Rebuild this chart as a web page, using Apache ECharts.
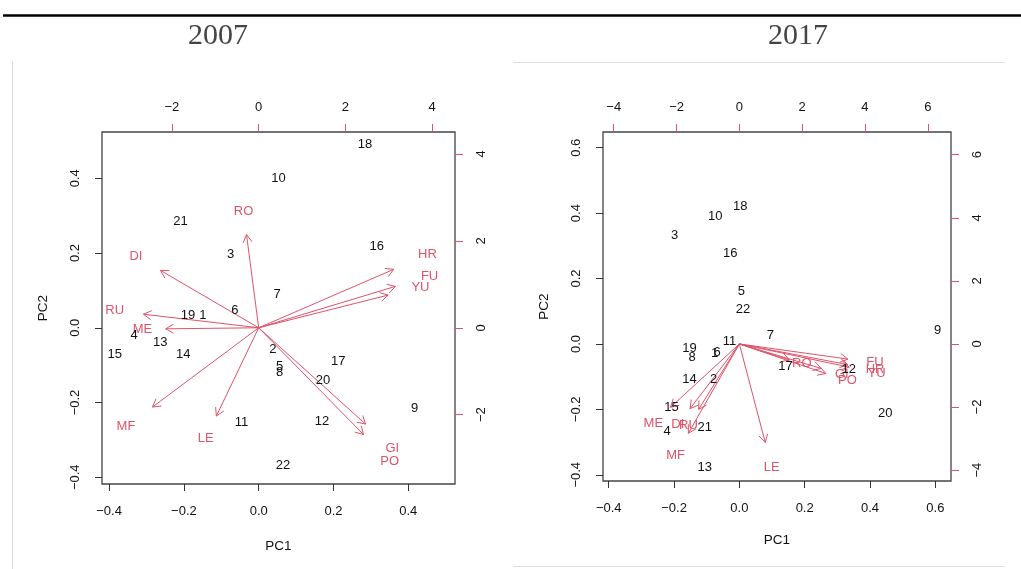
<!DOCTYPE html>
<html>
<head>
<meta charset="utf-8">
<script src="https://cdn.jsdelivr.net/npm/echarts@6/dist/echarts.min.js"></script>
<style>
  html, body { margin: 0; padding: 0; background: #fff; }
  #main { width: 1021px; height: 569px; }
</style>
</head>
<body>
<div id="main"></div>
<script>
// Observation numbers (rows of the PCA)
const obsLabels = ['1','2','3','4','5','6','7','8','9','10','11','12','13','14','15','16','17','18','19','20','21','22'];

// Observation coordinates on PC1 / PC2, 2007
const pc1_2007 = [-0.149, 0.038, -0.075, -0.333, 0.056, -0.064, 0.049, 0.056, 0.417, 0.053, -0.046, 0.169, -0.263, -0.202, -0.385, 0.316, 0.213, 0.284, -0.189, 0.172, -0.209, 0.065];
const pc2_2007 = [0.032, -0.058, 0.196, -0.020, -0.104, 0.047, 0.088, -0.120, -0.216, 0.399, -0.254, -0.251, -0.040, -0.072, -0.070, 0.218, -0.091, 0.490, 0.032, -0.140, 0.285, -0.367];

// Observation coordinates on PC1 / PC2, 2017
const pc1_2017 = [-0.076, -0.079, -0.198, -0.221, 0.006, -0.068, 0.095, -0.145, 0.607, -0.074, -0.030, 0.335, -0.106, -0.153, -0.208, -0.028, 0.141, 0.003, -0.153, 0.447, -0.106, 0.011];
const pc2_2017 = [-0.028, -0.108, 0.332, -0.266, 0.160, -0.027, 0.025, -0.041, 0.041, 0.390, 0.007, -0.077, -0.378, -0.107, -0.194, 0.278, -0.070, 0.421, -0.013, -0.212, -0.256, 0.107];

// Variable loadings (drawn against the top / right axes)
const varLabels = ['RO','DI','RU','ME','HR','FU','YU','MF','LE','GI','PO'];
const load1_2007 = [-0.35, -2.83, -3.32, -2.68, 3.89, 3.94, 3.73, -3.06, -1.22, 3.08, 3.02];
const load2_2007 = [2.68, 1.65, 0.39, -0.03, 1.68, 1.19, 0.94, -2.28, -2.54, -2.77, -3.07];
const load1_2017 = [1.99, -1.96, -1.62, -2.74, 4.32, 4.32, 4.37, -2.03, 1.03, 3.26, 3.44];
const load2_2017 = [-0.63, -2.56, -2.59, -2.51, -0.82, -0.60, -0.92, -3.54, -3.90, -0.97, -1.17];

// Tick values
const pcTicks_2007 = [-0.4, -0.2, 0, 0.2, 0.4];
const scoreTicks_2007 = [-2, 0, 2, 4];
const pcTicks_2017 = [-0.4, -0.2, 0, 0.2, 0.4, 0.6];
const scoreTicks_2017 = [-4, -2, 0, 2, 4, 6];

const panelTitles = ['2007', '2017'];

const RED = '#DF536B';
const FONT = '"Liberation Sans", Arial, sans-serif';
const SERIF = '"Liberation Serif", "Times New Roman", serif';
const MINUS = '\u2212';

function fmt1(v) { return (v < 0 ? MINUS : '') + Math.abs(v).toFixed(1); }
function fmt0(v) { return (v < 0 ? MINUS : '') + Math.abs(Math.round(v)); }

function pcAxis(gridIndex, pos, range, ticks, name, nameGap) {
  const isX = pos === 'bottom';
  return {
    type: 'value', gridIndex, position: pos,
    min: range[0], max: range[1],
    splitLine: { show: false },
    axisLine: { show: false, onZero: false },
    axisTick: { show: true, inside: false, length: 7, customValues: ticks,
                lineStyle: { color: '#333', width: 1 } },
    axisLabel: { show: true, customValues: ticks, formatter: fmt1,
                 color: '#111', fontSize: 13, fontFamily: FONT,
                 margin: isX ? 21 : 20, rotate: isX ? 0 : 90 },
    name, nameLocation: 'middle', nameGap,
    nameTextStyle: { color: '#111', fontSize: 13.5, fontFamily: FONT }
  };
}

function scoreAxis(gridIndex, pos, range, ticks) {
  const isX = pos === 'top';
  return {
    type: 'value', gridIndex, position: pos,
    min: range[0], max: range[1],
    splitLine: { show: false },
    axisLine: { show: false, onZero: false },
    axisTick: { show: true, inside: false, length: 8, customValues: ticks,
                lineStyle: { color: RED, width: 1 } },
    axisLabel: { show: true, customValues: ticks, formatter: fmt0,
                 color: '#111', fontSize: 13, fontFamily: FONT,
                 margin: isX ? 18 : 20, rotate: isX ? 0 : 90 }
  };
}

function obsSeries(xi, yi, xs, ys) {
  return {
    type: 'custom', xAxisIndex: xi, yAxisIndex: yi, clip: false,
    data: xs.map((v, i) => [v, ys[i]]),
    renderItem: function (params, api) {
      const p = api.coord([api.value(0), api.value(1)]);
      return {
        type: 'text',
        style: { x: p[0], y: p[1], text: obsLabels[params.dataIndex], fill: '#111',
                 fontSize: 13, fontFamily: FONT, align: 'center', verticalAlign: 'middle' }
      };
    }
  };
}

function arrowSeries(xi, yi, l1, l2) {
  return {
    type: 'custom', xAxisIndex: xi, yAxisIndex: yi, clip: false,
    data: l1.map((v, i) => [v, l2[i]]),
    renderItem: function (params, api) {
      const x = api.value(0), y = api.value(1);
      const o = api.coord([0, 0]);
      const t = api.coord([x * 0.8, y * 0.8]);
      const lp = api.coord([x, y]);
      const ang = Math.atan2(t[1] - o[1], t[0] - o[0]);
      const h = 9, a = Math.PI / 6;
      const h1 = [t[0] - h * Math.cos(ang - a), t[1] - h * Math.sin(ang - a)];
      const h2 = [t[0] - h * Math.cos(ang + a), t[1] - h * Math.sin(ang + a)];
      return {
        type: 'group',
        children: [
          { type: 'polyline', shape: { points: [o, t] }, style: { stroke: RED, lineWidth: 1, fill: null } },
          { type: 'polyline', shape: { points: [h1, t, h2] }, style: { stroke: RED, lineWidth: 1, fill: null } },
          { type: 'text', style: { x: lp[0], y: lp[1], text: varLabels[params.dataIndex], fill: RED,
                                   fontSize: 13, fontFamily: FONT, align: 'center', verticalAlign: 'middle' } }
        ]
      };
    }
  };
}

const chart = echarts.init(document.getElementById('main'), null, { renderer: 'canvas' });

chart.setOption({
  animation: false,
  backgroundColor: '#fff',
  grid: [
    { left: 102, top: 132, width: 353, height: 352, show: true, borderColor: '#444', borderWidth: 1.3, backgroundColor: 'transparent' },
    { left: 603, top: 132, width: 348, height: 349, show: true, borderColor: '#444', borderWidth: 1.3, backgroundColor: 'transparent' }
  ],
  xAxis: [
    pcAxis(0, 'bottom', [-0.419, 0.525], pcTicks_2007, 'PC1', 55),
    scoreAxis(0, 'top', [-3.612, 4.526], scoreTicks_2007),
    pcAxis(1, 'bottom', [-0.4175, 0.648], pcTicks_2017, 'PC1', 52),
    scoreAxis(1, 'top', [-4.342, 6.739], scoreTicks_2017)
  ],
  yAxis: [
    pcAxis(0, 'left', [-0.418, 0.524], pcTicks_2007, 'PC2', 52),
    scoreAxis(0, 'right', [-3.595, 4.505], scoreTicks_2007),
    pcAxis(1, 'left', [-0.419, 0.648], pcTicks_2017, 'PC2', 52),
    scoreAxis(1, 'right', [-4.345, 6.72], scoreTicks_2017)
  ],
  series: [
    arrowSeries(1, 1, load1_2007, load2_2007),
    obsSeries(0, 0, pc1_2007, pc2_2007),
    arrowSeries(3, 3, load1_2017, load2_2017),
    obsSeries(2, 2, pc1_2017, pc2_2017)
  ],
  graphic: [
    { type: 'line', shape: { x1: 3, y1: 15.5, x2: 1021, y2: 15.5 }, style: { stroke: '#000', lineWidth: 2.5 } },
    { type: 'line', shape: { x1: 12.5, y1: 61, x2: 12.5, y2: 569 }, style: { stroke: '#d8d8d8', lineWidth: 1 } },
    { type: 'line', shape: { x1: 513, y1: 62.5, x2: 1005, y2: 62.5 }, style: { stroke: '#e0e0e0', lineWidth: 1 } },
    { type: 'line', shape: { x1: 513, y1: 566.5, x2: 1005, y2: 566.5 }, style: { stroke: '#e0e0e0', lineWidth: 1 } },
    { type: 'text', style: { x: 218, y: 36, text: panelTitles[0], fill: '#444', font: '30px ' + SERIF, align: 'center', verticalAlign: 'middle' } },
    { type: 'text', style: { x: 798, y: 36, text: panelTitles[1], fill: '#444', font: '30px ' + SERIF, align: 'center', verticalAlign: 'middle' } }
  ]
});
</script>
</body>
</html>
